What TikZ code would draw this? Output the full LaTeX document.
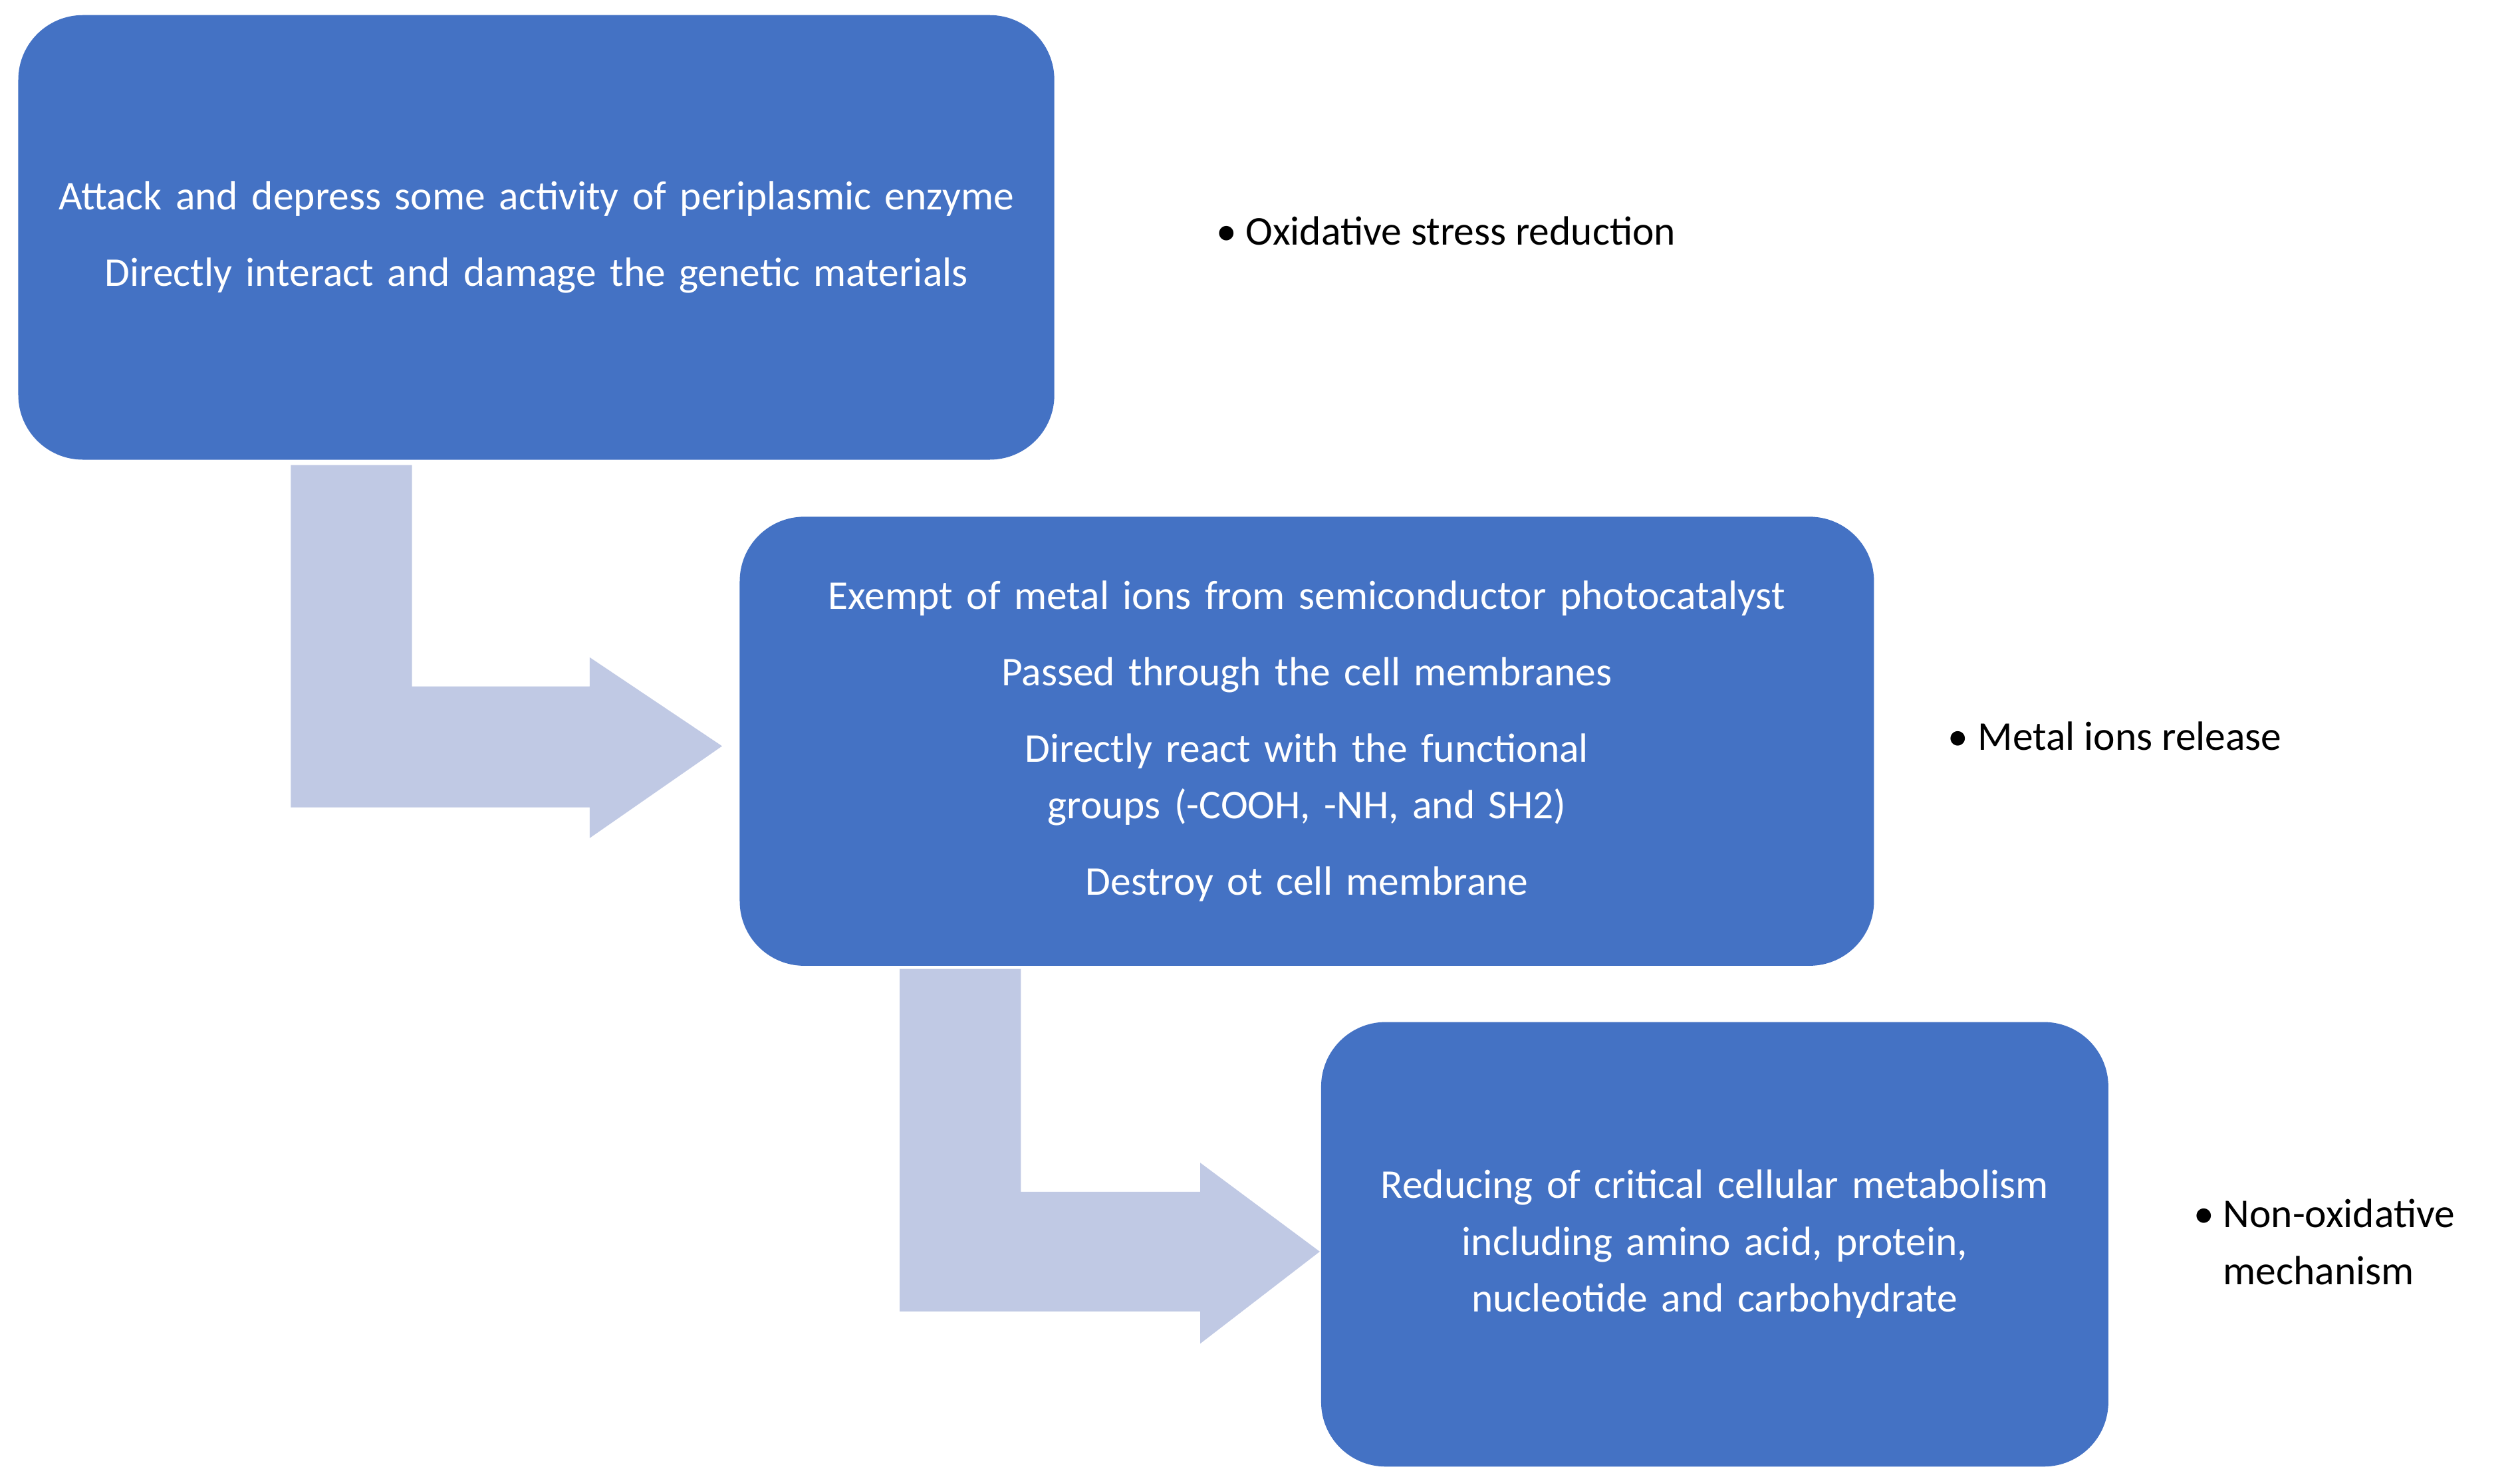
\documentclass[tikz,border=0pt]{standalone}
\usepackage{fontspec}
\setmainfont{Carlito}
\definecolor{boxblue}{HTML}{4472C4}
\definecolor{arrowblue}{HTML}{C0C9E4}
\tikzset{
  stepbox/.style={fill=boxblue, rounded corners=1cm, text=white, align=center,
    inner sep=0pt, font=\fontsize{18}{25}\selectfont},
  bentarrow/.style={fill=arrowblue, draw=none},
  point/.style={anchor=west, align=left, font=\fontsize{18}{25}\selectfont}
}
\begin{document}
\begin{tikzpicture}[x=0.025cm,y=-0.025cm]
        \useasboundingbox (0,0) rectangle (1560,918);
        % bent arrows
        \fill[bentarrow] (180,288) -- (255,288) -- (255,425) -- (365,425) -- (365,407)
            -- (447,462) -- (365,519) -- (365,500) -- (180,500) -- cycle;
        \fill[bentarrow] (557,600) -- (632,600) -- (632,738) -- (743,738) -- (743,720)
            -- (817,775) -- (743,832) -- (743,812) -- (557,812) -- cycle;
        % boxes
        \node[stepbox, minimum width=16.03cm, minimum height=6.88cm, text width=15.2cm] (attack) at (332,147)
            {Attack and depress some activity of periplasmic enzyme\\[0.3cm]
             Directly interact and damage the genetic materials};
        \node[stepbox, minimum width=17.55cm, minimum height=6.95cm, text width=16.2cm] (release) at (809,459)
            {Exempt of metal ions from semiconductor photocatalyst\\[0.3cm]
             Passed through the cell membranes\\[0.3cm]
             Directly react with the functional groups (-COOH, -NH, and SH2)\\[0.3cm]
             Destroy ot cell membrane};
        \node[stepbox, minimum width=12.18cm, minimum height=6.88cm, text width=11cm] (reduce) at (1061.5,770.5)
            {Reducing of critical cellular metabolism including amino acid, protein, nucleotide and carbohydrate};
        % side labels
        \node[point] (oxid) at (748,143) {\textbullet\ Oxidative stress reduction};
        \node[point] (metal) at (1201,456) {\textbullet\ Metal ions release};
        \node[point] (nonox) at (1353,769) {\textbullet\ Non-oxidative\\\phantom{\textbullet\ }mechanism};
\end{tikzpicture}
\end{document}
